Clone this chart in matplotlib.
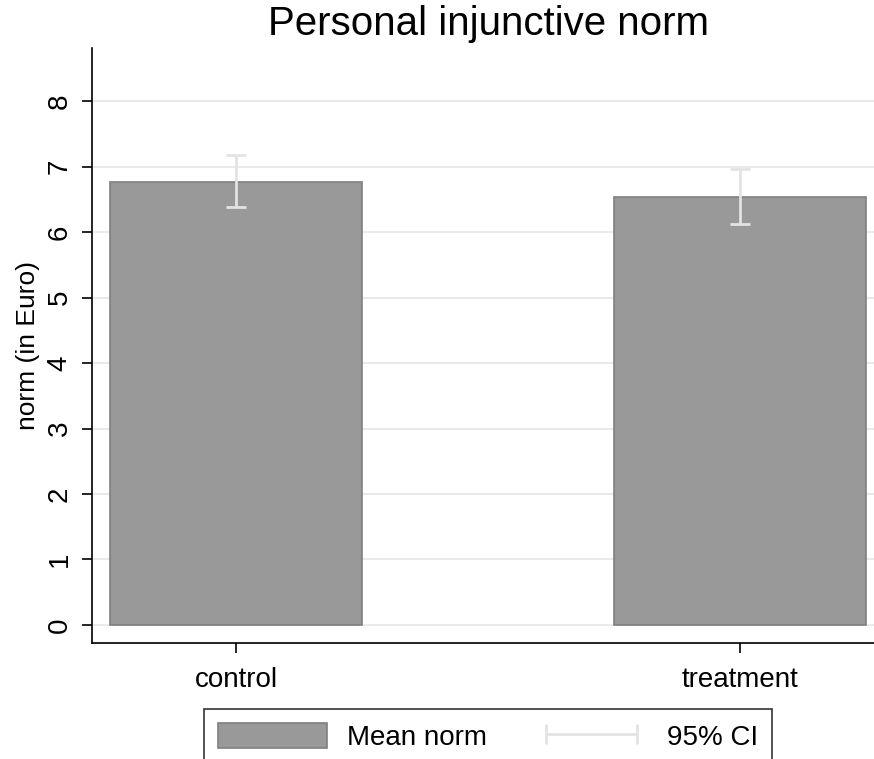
import matplotlib
matplotlib.use('Agg')
from matplotlib import pyplot as plt
from matplotlib.patches import Patch
from matplotlib.lines import Line2D
import numpy as np

plt.rcParams['font.family'] = ['Liberation Sans', 'DejaVu Sans']

# group means and 95% confidence bounds
groups = ['control', 'treatment']
mean_norm = [6.76, 6.53]
ci_low = [6.38, 6.13]
ci_high = [7.17, 6.96]

fig = plt.figure(figsize=(8.74, 7.59), dpi=100)
ax = fig.add_axes([92/874, 1-643/759, 782/874, 595/759])

x = np.arange(len(groups))
ax.bar(x, mean_norm, width=0.5, color='#999999', edgecolor='#7f7f7f', linewidth=1.2, zorder=2)

# CI caps
lo = np.array(mean_norm) - np.array(ci_low)
hi = np.array(ci_high) - np.array(mean_norm)
ax.errorbar(x, mean_norm, yerr=[lo, hi], fmt='none', ecolor='#e3e3e3',
            elinewidth=2, capsize=7, capthick=2, zorder=3)

ax.set_xlim(-0.2857, 1.266)
ax.set_ylim(-0.275, 8.81)
ax.set_yticks(range(0, 9))
ax.set_xticks(x)
ax.set_xticklabels(groups, fontsize=20)
ax.tick_params(axis='y', labelsize=20, labelrotation=90, length=7, width=1.2, pad=7)
ax.tick_params(axis='x', length=7, width=1.2, pad=10)
for lab in ax.get_yticklabels():
    lab.set_va('center')
ax.yaxis.grid(True, color='#eaeaea', linewidth=1.5, zorder=0)
ax.set_axisbelow(True)
ax.spines['top'].set_visible(False)
ax.spines['right'].set_visible(False)
ax.spines['left'].set_linewidth(1.2)
ax.spines['bottom'].set_linewidth(1.2)
ax.set_ylabel('norm (in Euro)', fontsize=19, labelpad=5)

fig.text(488/874, 1-24/759, 'Personal injunctive norm', fontsize=29, ha='center', va='center')

handles = [Patch(facecolor='#999999', edgecolor='#7f7f7f', linewidth=1.2),
           Line2D([0, 1], [0, 0], color='#e3e3e3', linewidth=2, marker='|',
                  markersize=14, markeredgewidth=2)]
leg = fig.legend(handles, ['Mean norm', '95% CI'], loc='upper center',
                 bbox_to_anchor=(488/874, 1-709/759), ncol=2, fontsize=20,
                 frameon=True, fancybox=False, numpoints=2, handlelength=3.9,
                 handleheight=1.0, columnspacing=1.8, borderpad=0.5,
                 handletextpad=0.75, borderaxespad=0)
leg.get_frame().set_edgecolor('black')
leg.get_frame().set_linewidth(1.2)

plt.savefig('out.png', dpi=100)
